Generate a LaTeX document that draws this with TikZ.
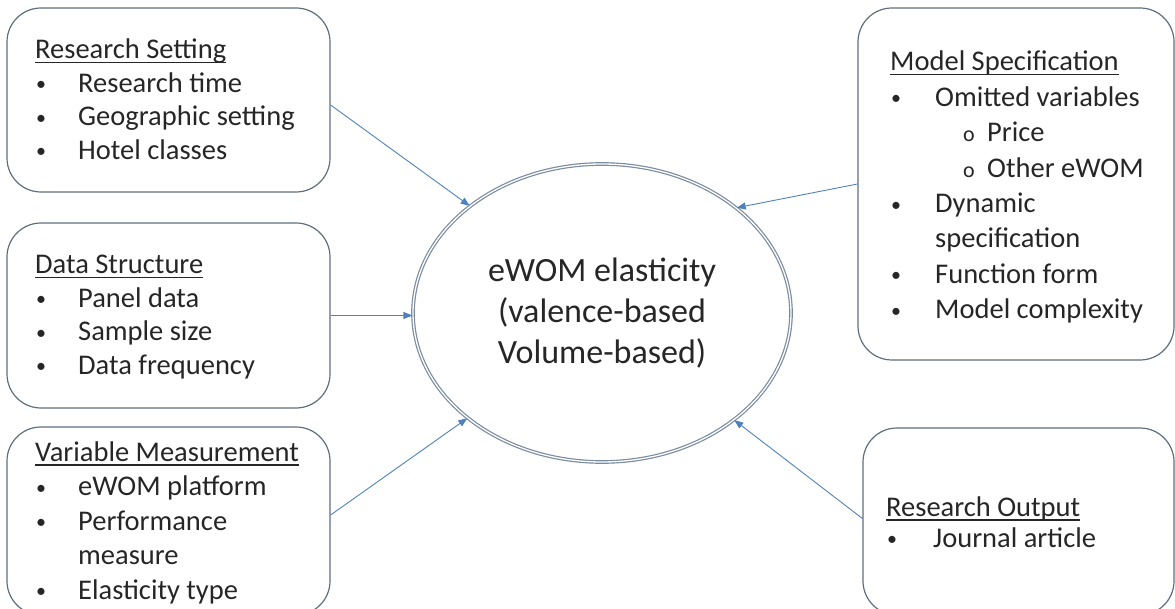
\documentclass[tikz,border=0pt]{standalone}
\usepackage{fontspec}
\setmainfont{Carlito}
\usetikzlibrary{shapes.geometric,arrows.meta}
\definecolor{boxc}{HTML}{5F6E7E}
\definecolor{arrc}{HTML}{4F81BD}
\definecolor{ellc}{HTML}{7A8BA0}
\definecolor{txt}{HTML}{262626}
\newcommand\ulin[1]{\setbox0\hbox{#1}\rlap{\rule[-4.5pt]{\wd0}{1.8pt}}\box0}
\newcommand\subb{\hspace{28pt}\makebox[24pt][l]{\fontsize{22}{22}\selectfont o}}
\newcommand\bul{\hspace{1pt}\raisebox{1.5pt}{\fontsize{20}{20}\selectfont •}}
\begin{document}
\begin{tikzpicture}[x=1pt,y=-1pt,
  box/.style={draw=boxc, line width=1.2pt, rounded corners=34pt, inner sep=0pt},
  lbl/.style={anchor=base west, inner sep=0pt, text=txt},
  arr/.style={draw=arrc, line width=0.9pt, -{Triangle[length=9pt,width=7pt]}}]
\useasboundingbox (0,0) rectangle (1175,609);
\begin{scope}
\clip (0,0) rectangle (1175,609);
% boxes
\node[box, minimum width=323pt, minimum height=184pt] (b1) at (168.5,100) {};
\node[box, minimum width=323pt, minimum height=185pt] (b2) at (168.5,315.5) {};
\node[box, minimum width=323pt, minimum height=188pt] (b3) at (168.5,521) {};
\node[box, minimum width=316pt, minimum height=352pt] (b4) at (1016,184) {};
\node[box, minimum width=311pt, minimum height=187pt] (b5) at (1018.5,521.5) {};
% ellipse
\node[ellipse, draw=ellc, line width=1.2pt, double=white, double distance=1.3pt,
  minimum width=378pt, minimum height=298pt, inner sep=0pt, text=txt, align=center,
  font=\fontsize{34}{41}\selectfont] (ell) at (602,313)
  {eWOM elasticity\\(valence-based\\Volume-based)};
% texts
\node[lbl] (t1) at (35,59) {\fontsize{28.5}{33.5}\selectfont
\begin{tabular}[t]{@{}p{43pt}@{}l@{}}
\multicolumn{2}{@{}l@{}}{\ulin{Research Setting}}\\
\bul&Research time\\
\bul&Geographic setting\\
\bul&Hotel classes
\end{tabular}};
\node[lbl] (t2) at (35,274) {\fontsize{28.5}{33.5}\selectfont
\begin{tabular}[t]{@{}p{43pt}@{}l@{}}
\multicolumn{2}{@{}l@{}}{\ulin{Data Structure}}\\
\bul&Panel data\\
\bul&Sample size\\
\bul&Data frequency
\end{tabular}};
\node[lbl] (t3) at (35,461) {\fontsize{28.5}{34.5}\selectfont
\begin{tabular}[t]{@{}p{43pt}@{}l@{}}
\multicolumn{2}{@{}l@{}}{\ulin{Variable Measurement}}\\
\bul&eWOM platform\\
\bul&Performance\\
&measure\\
\bul&Elasticity type
\end{tabular}};
\node[lbl] (t4) at (890,71) {\fontsize{28.5}{35.4}\selectfont
\begin{tabular}[t]{@{}p{45pt}@{}l@{}}
\multicolumn{2}{@{}l@{}}{\ulin{Model Specification}}\\
\bul&Omitted variables\\
&\subb Price\\
&\subb Other eWOM\\
\bul&Dynamic\\
&specification\\
\bul&Function form\\
\bul&Model complexity
\end{tabular}};
\node[lbl] (t5) at (886,516) {\fontsize{28.5}{31}\selectfont
\begin{tabular}[t]{@{}p{47pt}@{}l@{}}
\multicolumn{2}{@{}l@{}}{\ulin{Research Output}}\\
\bul&Journal article
\end{tabular}};
% connectors
\draw[arr] ([yshift=-5pt]b1.east) -- (ell.141.7);
\draw[arr] (b2.east) -- (b2.east -| ell.west);
\draw[arr] ([yshift=6pt]b3.east) -- (ell.218);
\draw[arr] (b4.west) -- (ell.38);
\draw[arr] ([yshift=3pt]b5.west) -- (ell.321);
\end{scope}
\end{tikzpicture}
\end{document}
